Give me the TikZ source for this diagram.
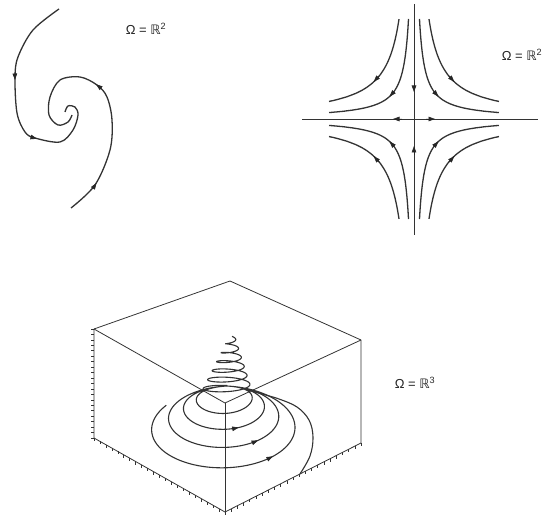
\documentclass[tikz,border=0pt]{standalone}
\usepackage{fontspec}
\setmainfont{Liberation Sans}
\newfontfamily\dvfont{DejaVu Sans}
\usetikzlibrary{arrows.meta,calc}
\tikzset{
  curve/.style={line width=1.3pt, draw=black!80, line join=round},
  boxline/.style={line width=0.8pt, draw=black!80},
  axisline/.style={line width=0.9pt, draw=black!80},
  arrowtip/.style={-{Triangle[length=6.5pt,width=4.6pt]}, line width=0.6pt, draw=black!85, fill=black!85},
  lbl/.style={font=\fontsize{13}{15}\selectfont, text=black!85, inner sep=0pt}
}
\begin{document}
\begin{tikzpicture}[x=1pt,y=-1pt,
  declare function={
    sg(\t)=(1440-\t)/360;
    aa(\t)=21.5+14.5*sg(\t)+1.2*sg(\t)*sg(\t);
    bb(\t)=0.47*aa(\t)-1.5;
    ww(\t)=abs(sin(\t/2));
    PX(\t)=227-((1-ww(\t))*25+ww(\t)*aa(\t))*sin(\t);
    PY(\t)=(1-ww(\t))*(391-5*cos(\t))+ww(\t)*(389+bb(\t)-bb(\t)*cos(\t));
    HU(\t)=\t/2160;
    HR(\t)=3+22*(1-HU(\t));
    HX(\t)=227+5*HU(\t)-HR(\t)*sin(\t);
    HY(\t)=391-54*HU(\t)-0.22*HR(\t)*cos(\t);
  }]
\useasboundingbox (0,0) rectangle (550,516);

% ---------- spiral (top left) ----------
\draw[curve] plot[smooth, tension=0.55] coordinates
  {(59,9) (33,30) (18,57) (15,78) (17,113) (25,132) (35,138) (60,142) (73,130) (78,115) (75,107) (68,106) (65,112)};
\draw[curve] plot[smooth, tension=0.55] coordinates
  {(71,208) (95,185) (110,150) (112,120) (107,97) (97,85) (80,77) (60,80) (50,97) (49,115) (58,125) (68,122) (72,115)};
\draw[arrowtip] (14.8,73) -- (15,80);
\draw[arrowtip] (30,136.8) -- (37,138.8);
\draw[arrowtip] (92.5,189) -- (96.5,183);
\draw[arrowtip] (101.5,88.5) -- (96,84.3);
\node[lbl] (lab1) at (146,29) {Ω = {\dvfont ℝ}\textsuperscript{2}};

% ---------- saddle (top right) ----------
\coordinate (vt) at (414,4);
\coordinate (vb) at (414,235);
\coordinate (hl) at (302,119);
\coordinate (hr) at (538,119);
\draw[axisline] (vt) -- (vb);
\draw[axisline] (hl) -- (hr);
\draw[arrowtip] (414,83) -- (414,92);
\draw[arrowtip] (414,155) -- (414,146);
\draw[arrowtip] (402,119) -- (393,119);
\draw[arrowtip] (426,119) -- (435,119);
\foreach \c in {550,1500} {
  \pgfmathsetmacro{\umin}{ln(\c/100)}
  \pgfmathsetmacro{\umax}{ln(85)}
  \pgfmathsetmacro{\uo}{0.5*ln(\c)}
  \foreach \sx/\sy in {-1/-1, 1/-1, -1/1, 1/1} {
    \draw[curve] plot[domain=\umin:\umax, samples=80, smooth, variable=\u] ({414+\sx*exp(\u)},{119+\sy*\c*exp(-\u)});
    \draw[arrowtip] ({414+\sx*exp(\uo-0.12)},{119+\sy*\c*exp(-\uo+0.12)}) -- ({414+\sx*exp(\uo+0.04)},{119+\sy*\c*exp(-\uo-0.04)});
  }
}
\node[lbl] (lab2) at (522,55) {Ω = {\dvfont ℝ}\textsuperscript{2}};

% ---------- 3D box ----------
\coordinate (Tb) at (230,281);
\coordinate (Tl) at (94,329);
\coordinate (Tr) at (361,340);
\coordinate (Tf) at (225,403);
\coordinate (Bl) at (94,438);
\coordinate (Bf) at (225,512);
\coordinate (Br) at (361,443);
\draw[boxline] (Tl) -- (Tb) -- (Tr);
\draw[boxline] (Tl) -- (Tf) -- (Tr);
\draw[boxline] (Tl) -- (Bl) -- (Bf) -- (Br) -- (Tr);
\draw[boxline] (Tf) -- (Bf);
\foreach \i in {0,...,20} \draw[boxline, line width=0.6pt] ($(Tl)!\i/20!(Bl)$) -- ++(-3,0);
\foreach \i in {0,...,22} \draw[boxline, line width=0.6pt] ($(Bl)!\i/22!(Bf)$) -- ++(0,3);
\foreach \i in {0,...,22} \draw[boxline, line width=0.6pt] ($(Bf)!\i/22!(Br)$) -- ++(0,3);

% spiral trajectory
\draw[curve, line width=1.1pt] plot[domain=70:1440, samples=500, smooth, variable=\t] ({PX(\t)},{PY(\t)});
\draw[curve, line width=1.1pt] plot[domain=0:2160, samples=600, smooth, variable=\t] ({HX(\t)},{HY(\t)});
\coordinate (E) at ($(Bf)!0.551!(Br)$);
\coordinate (P) at (252,391);
\draw[curve, line width=1.1pt] plot[smooth, tension=0.6] coordinates {(E) (310,456) (313,437) (309,420) (297,407) (279,399) (262,394) (P)};
\foreach \a in {214,570,915} {
  \draw[arrowtip] ({PX(\a-4)},{PY(\a-4)}) -- ({PX(\a)},{PY(\a)});
}
\node[lbl] (lab3) at (415,383) {Ω = {\dvfont ℝ}\textsuperscript{3}};
\end{tikzpicture}
\end{document}
